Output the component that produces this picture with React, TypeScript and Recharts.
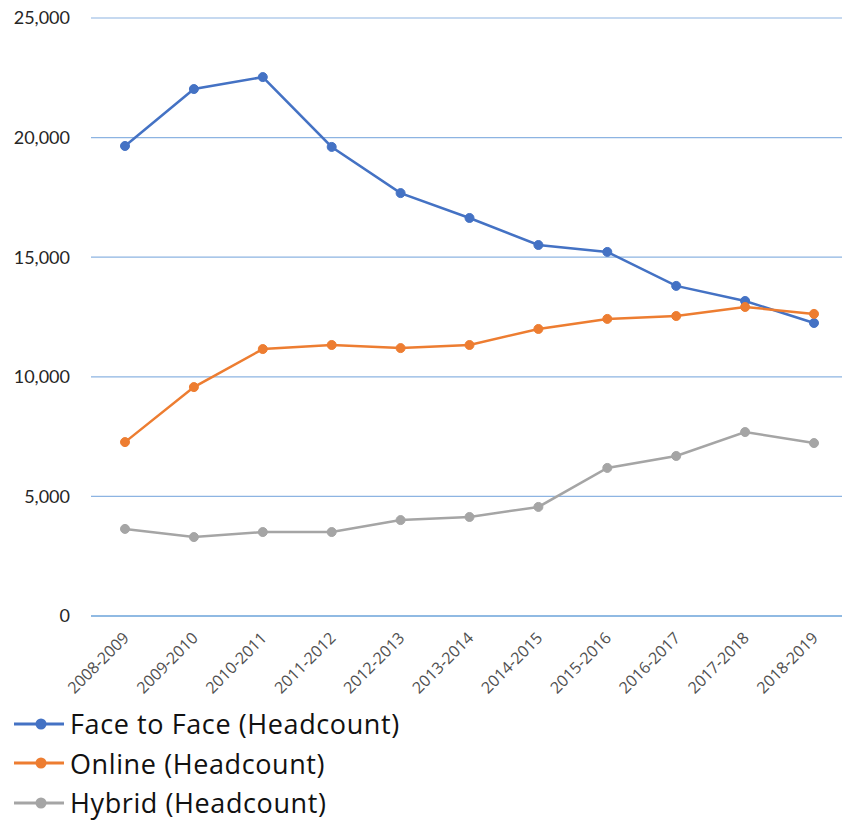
import { CartesianGrid, Legend, Line, LineChart, XAxis, YAxis } from "recharts";

const years = [
  "2008-2009",
  "2009-2010",
  "2010-2011",
  "2011-2012",
  "2012-2013",
  "2013-2014",
  "2014-2015",
  "2015-2016",
  "2016-2017",
  "2017-2018",
  "2018-2019",
];
const faceToFace = [19650, 22030, 22530, 19610, 17680, 16640, 15510, 15220, 13800, 13170, 12250];
const online = [7270, 9570, 11160, 11330, 11200, 11330, 12000, 12420, 12540, 12920, 12630];
const hybrid = [3640, 3300, 3510, 3510, 4010, 4140, 4560, 6190, 6690, 7690, 7230];
const yTicks = [0, 5000, 10000, 15000, 20000, 25000];

const series = [
  { key: "f2f", label: "Face to Face (Headcount)", color: "#4472C4", values: faceToFace },
  { key: "online", label: "Online (Headcount)", color: "#ED7D31", values: online },
  { key: "hybrid", label: "Hybrid (Headcount)", color: "#A5A5A5", values: hybrid },
];

const data = years.map((year, i) => {
  const row: Record<string, number | string> = { year };
  series.forEach((s) => {
    row[s.key] = s.values[i];
  });
  return row;
});

const XTick = ({ x, y, payload }: any) => (
  <text
    x={x + 5}
    y={y + 15}
    transform={`rotate(-45, ${x + 5}, ${y + 15})`}
    textAnchor="end"
    fill="#505050"
    fontSize={16}
    fontFamily="Open Sans"
  >
    {payload.value}
  </text>
);

const renderLegend = () => (
  <div style={{ height: 120, boxSizing: "border-box", paddingLeft: 14, paddingTop: 6 }}>
    {series.map((s) => (
      <div key={s.key} style={{ display: "flex", alignItems: "center", height: 39.5 }}>
        <svg width={56} height={14}>
          <line x1={0} y1={7} x2={50} y2={7} stroke={s.color} strokeWidth={3} />
          <circle cx={27} cy={7} r={5.5} fill={s.color} />
        </svg>
        <span
          style={{ fontFamily: "Open Sans", fontSize: 27, letterSpacing: 0.6, color: "#111" }}
        >
          {s.label}
        </span>
      </div>
    ))}
  </div>
);

export default function App() {
  return (
    <div style={{ position: "absolute", left: 0, top: 0, background: "#fff" }}>
      <LineChart
        width={842}
        height={821}
        data={data}
        margin={{ top: 18, right: 0, left: 0, bottom: 3 }}
      >
        <CartesianGrid vertical={false} stroke="#8DB4E2" strokeWidth={1.2} />
        <XAxis
          dataKey="year"
          axisLine={{ stroke: "#5B9BD5", strokeWidth: 1.2 }}
          tickLine={false}
          tick={<XTick />}
          interval={0}
          height={82}
          padding={{ left: 34, right: 28 }}
        />
        <YAxis
          domain={[0, 25000]}
          ticks={yTicks}
          axisLine={false}
          tickLine={false}
          tickSize={0}
          tickMargin={21}
          width={91}
          tickFormatter={(v: number) => v.toLocaleString("en-US")}
          tick={{ fill: "#262626", fontSize: 18, fontFamily: "Lato" }}
        />
        <Legend verticalAlign="bottom" align="left" content={renderLegend} />
        {series.map((s) => (
          <Line
            key={s.key}
            type="linear"
            dataKey={s.key}
            name={s.label}
            stroke={s.color}
            strokeWidth={2.5}
            dot={{ r: 4.5, fill: s.color, stroke: s.color, strokeWidth: 1 }}
            isAnimationActive={false}
          />
        ))}
      </LineChart>
    </div>
  );
}
